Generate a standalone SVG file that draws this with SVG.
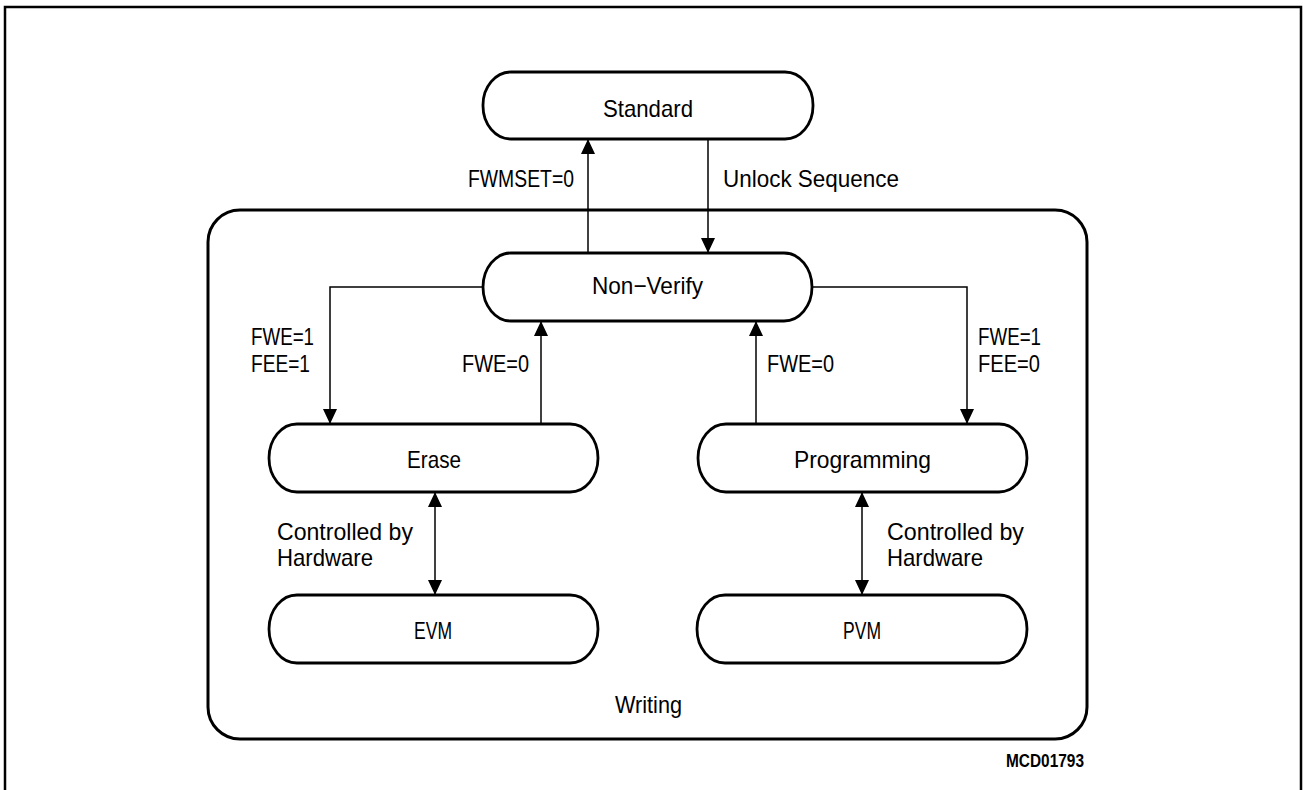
<svg xmlns="http://www.w3.org/2000/svg" width="1303" height="790" viewBox="0 0 1303 790">
<defs>
<style>
.node{fill:#fff;stroke:#000;stroke-width:2.8}
.frame{fill:none;stroke:#000;stroke-width:2.5}
.wr{fill:none;stroke:#000;stroke-width:3}
.c{fill:none;stroke:#000;stroke-width:1.5}
text{font-family:"Liberation Sans",Arial,sans-serif;font-size:24px;fill:#000}
.small{font-size:18px;font-weight:bold}
</style>
<marker id="ah" markerUnits="userSpaceOnUse" markerWidth="15" markerHeight="14" refX="15" refY="7" orient="auto-start-reverse">
<path d="M0,0 L15,7 L0,14 z" fill="#000"/>
</marker>
</defs>
<rect x="0" y="0" width="1303" height="790" fill="#fff"/>
<rect class="frame" x="5" y="7" width="1296" height="790"/>
<g id="writing">
<rect class="wr" x="208" y="210" width="879" height="529" rx="32" ry="32"/>
<text x="615" y="713" textLength="67" lengthAdjust="spacingAndGlyphs">Writing</text>
</g>
<g id="connectors">
<line class="c" x1="588" y1="253" x2="588" y2="139" marker-end="url(#ah)"/>
<line class="c" x1="708" y1="139" x2="708" y2="253" marker-end="url(#ah)"/>
<polyline class="c" points="483,287 330,287 330,424" marker-end="url(#ah)"/>
<line class="c" x1="541" y1="424" x2="541" y2="321" marker-end="url(#ah)"/>
<polyline class="c" points="812,287 967,287 967,424" marker-end="url(#ah)"/>
<line class="c" x1="756" y1="424" x2="756" y2="321" marker-end="url(#ah)"/>
<line class="c" x1="435" y1="492" x2="435" y2="595" marker-start="url(#ah)" marker-end="url(#ah)"/>
<line class="c" x1="862" y1="492" x2="862" y2="595" marker-start="url(#ah)" marker-end="url(#ah)"/>
<text x="468" y="187" textLength="106" lengthAdjust="spacingAndGlyphs">FWMSET=0</text>
<text x="723" y="187" textLength="176" lengthAdjust="spacingAndGlyphs">Unlock  Sequence</text>
<text x="251" y="345" textLength="63" lengthAdjust="spacingAndGlyphs">FWE=1</text>
<text x="251" y="372" textLength="59" lengthAdjust="spacingAndGlyphs">FEE=1</text>
<text x="462" y="372" textLength="67" lengthAdjust="spacingAndGlyphs">FWE=0</text>
<text x="767" y="372" textLength="67" lengthAdjust="spacingAndGlyphs">FWE=0</text>
<text x="978" y="345" textLength="63" lengthAdjust="spacingAndGlyphs">FWE=1</text>
<text x="978" y="372" textLength="62" lengthAdjust="spacingAndGlyphs">FEE=0</text>
<text x="277" y="540" textLength="136" lengthAdjust="spacingAndGlyphs">Controlled  by</text>
<text x="277" y="566" textLength="96" lengthAdjust="spacingAndGlyphs">Hardware</text>
<text x="887" y="540" textLength="137" lengthAdjust="spacingAndGlyphs">Controlled  by</text>
<text x="887" y="566" textLength="96" lengthAdjust="spacingAndGlyphs">Hardware</text>
</g>
<g id="standard">
<rect class="node" x="483" y="72" width="330" height="67" rx="28" ry="33"/>
<text x="603" y="117" textLength="90" lengthAdjust="spacingAndGlyphs">Standard</text>
</g>
<g id="nonverify">
<rect class="node" x="483" y="253" width="329" height="68" rx="28" ry="34"/>
<text x="592" y="294" textLength="111" lengthAdjust="spacingAndGlyphs">Non−Verify</text>
</g>
<g id="erase">
<rect class="node" x="269" y="424" width="329" height="68" rx="28" ry="34"/>
<text x="407" y="468" textLength="54" lengthAdjust="spacingAndGlyphs">Erase</text>
</g>
<g id="programming">
<rect class="node" x="698" y="424" width="329" height="68" rx="28" ry="34"/>
<text x="794" y="468" textLength="137" lengthAdjust="spacingAndGlyphs">Programming</text>
</g>
<g id="evm">
<rect class="node" x="269" y="595" width="329" height="68" rx="28" ry="34"/>
<text x="414" y="639" textLength="38" lengthAdjust="spacingAndGlyphs">EVM</text>
</g>
<g id="pvm">
<rect class="node" x="697" y="595" width="330" height="68" rx="28" ry="34"/>
<text x="843" y="639" textLength="38" lengthAdjust="spacingAndGlyphs">PVM</text>
</g>
<text class="small" x="1006" y="767" textLength="78" lengthAdjust="spacingAndGlyphs">MCD01793</text>
</svg>
